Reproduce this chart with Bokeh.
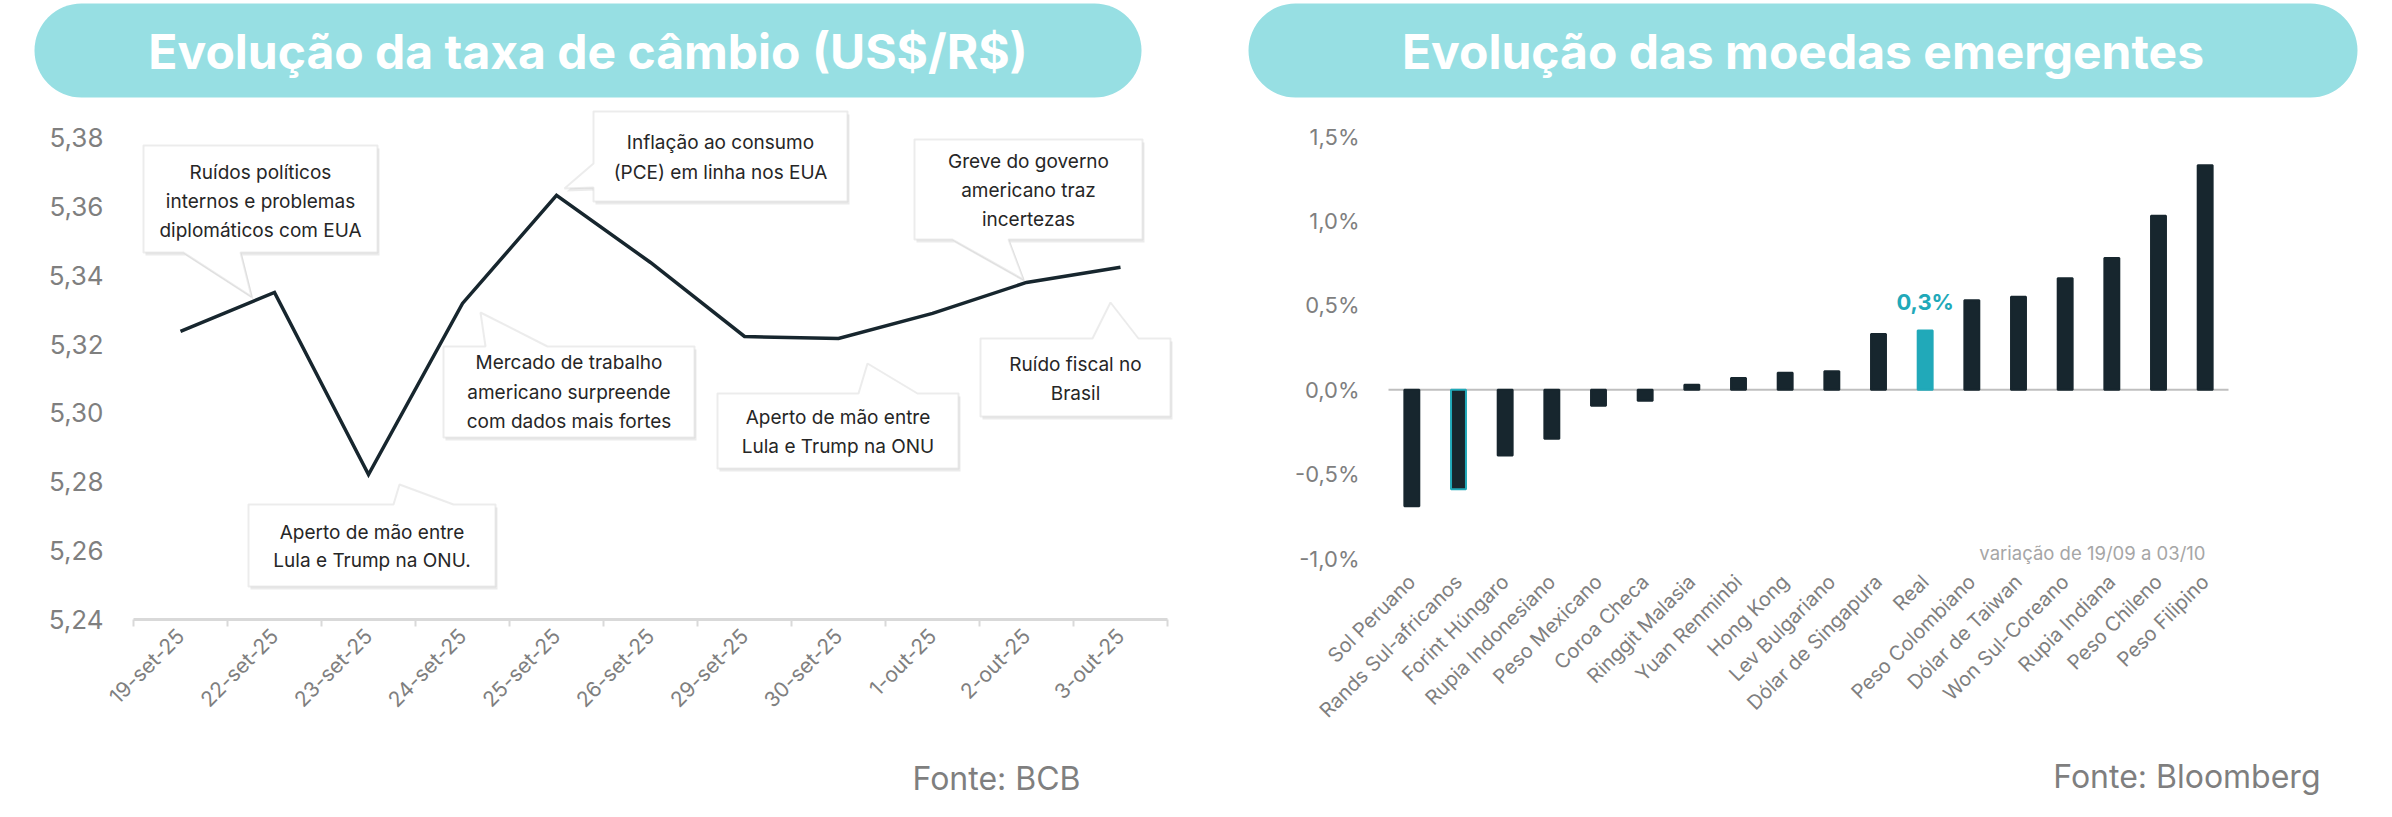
from math import pi
from bokeh.plotting import figure
from bokeh.layouts import row
from bokeh.models import (Range1d, FixedTicker, CustomJSTickFormatter, Label,
                          BoxAnnotation, PolyAnnotation, ColumnDataSource)
from bokeh.core.properties import value
from bokeh.embed import file_html
from bokeh.resources import INLINE

# ---------------- data ----------------
dates = ["19-set-25", "22-set-25", "23-set-25", "24-set-25", "25-set-25", "26-set-25",
         "29-set-25", "30-set-25", "1-out-25", "2-out-25", "3-out-25"]
usd_brl = [5.3237, 5.3350, 5.2821, 5.3318, 5.3632, 5.3437, 5.3222, 5.3216, 5.3289, 5.3379, 5.3423]
fx_ticks = [5.24, 5.26, 5.28, 5.30, 5.32, 5.34, 5.36, 5.38]

currencies = ["Sol Peruano", "Rands Sul-africanos", "Forint Húngaro", "Rupia Indonesiano",
              "Peso Mexicano", "Coroa Checa", "Ringgit Malasia", "Yuan Renminbi", "Hong Kong",
              "Lev Bulgariano", "Dólar de Singapura", "Real", "Peso Colombiano", "Dólar de Taiwan",
              "Won Sul-Coreano", "Rupia Indiana", "Peso Chileno", "Peso Filipino"]
change_pct = [-0.69, -0.59, -0.39, -0.29, -0.095, -0.065, 0.03, 0.07, 0.10, 0.11, 0.33, 0.35,
              0.53, 0.55, 0.66, 0.78, 1.03, 1.33]
pct_ticks = [-1.0, -0.5, 0.0, 0.5, 1.0, 1.5]
real_label = "0,3%"

title_left = "Evolução da taxa de câmbio (US$/R$)"
title_right = "Evolução das moedas emergentes"
source_left = "Fonte: BCB"
source_right = "Fonte: Bloomberg"
note_right = "variação de 19/09 a 03/10"

# ---------------- style / layout ----------------
FONT = "Inter"
TEAL_PILL = "#97dfe3"
TEAL = "#21a9b9"
DARK = "#17262e"
GRAY = "#7f7f7f"
TXT = "#262626"
BORDER = "#bfbfbf"
H = 812
W1 = 1200
W2 = 1184
OFF1 = 0      # page x of figure 1
OFF2 = W1     # page x of figure 2


def axis_range(v_a, px_a, v_b, px_b, px_lo, px_hi):
    """Range whose values v_a/v_b land on pixels px_a/px_b of a frame spanning px_lo..px_hi."""
    k = (px_b - px_a) / (v_b - v_a)
    return Range1d(v_a + (px_lo - px_a) / k, v_a + (px_hi - px_a) / k)


def make_fig(width, x_range, y_range):
    p = figure(width=width, height=H, x_range=x_range, y_range=y_range,
               output_backend="svg", toolbar_location=None,
               min_border_left=0, min_border_right=0, min_border_top=0, min_border_bottom=0)
    p.outline_line_color = None
    p.xgrid.visible = False
    p.ygrid.visible = False
    p.background_fill_color = "white"
    p.border_fill_color = "white"
    return p


def pill(p, off, left, right, top, bottom, text):
    p.add_layout(BoxAnnotation(left=left - off, right=right - off, top=top, bottom=bottom,
                               left_units="canvas", right_units="canvas",
                               top_units="canvas", bottom_units="canvas",
                               fill_color=TEAL_PILL, fill_alpha=1.0, line_color=None,
                               border_radius=int((bottom - top) // 2), level="underlay"))
    p.add_layout(Label(x=(left + right) / 2 - off, y=(top + bottom) / 2 + 1, x_units="canvas",
                       y_units="canvas", text=text, text_align="center", text_baseline="middle",
                       text_font=FONT, text_font_style="bold", text_font_size="48px",
                       text_color="white"))


def callout(p, off, box, edge, base, tip, lines, line_ys):
    l, t, r, b = box
    if edge == "bottom":
        pts = [(l, t), (r, t), (r, b), (base[1], b), tip, (base[0], b), (l, b)]
    elif edge == "top":
        pts = [(l, t), (base[0], t), tip, (base[1], t), (r, t), (r, b), (l, b)]
    else:  # left
        pts = [(l, t), (r, t), (r, b), (l, b), (l, base[1]), tip, (l, base[0])]
    xs = [x - off for x, _ in pts]
    ys = [y for _, y in pts]
    p.add_layout(PolyAnnotation(xs=[x + 2 for x in xs], ys=[y + 3 for y in ys],
                                xs_units="canvas", ys_units="canvas",
                                fill_color="#000000", fill_alpha=0.08, line_color=None))
    p.add_layout(PolyAnnotation(xs=xs, ys=ys, xs_units="canvas", ys_units="canvas",
                                fill_color="white", fill_alpha=1.0, line_color=BORDER,
                                line_width=2))
    cx = (l + r) / 2 - off
    for txt, yy in zip(lines, line_ys):
        p.add_layout(Label(x=cx, y=yy, x_units="canvas", y_units="canvas", text=txt,
                           text_align="center", text_baseline="middle", text_font=FONT,
                           text_font_size="19px", text_color=TXT))


def style_ylabels(ax, size, standoff):
    ax.axis_line_color = None
    ax.major_tick_line_color = None
    ax.minor_tick_line_color = None
    ax.major_tick_in = 0
    ax.major_tick_out = 0
    ax.major_label_standoff = standoff
    ax.major_label_text_font = FONT
    ax.major_label_text_font_size = size
    ax.major_label_text_color = GRAY


# ---------------- left chart ----------------
n = len(dates)
p1 = make_fig(W1,
              axis_range(0, 133 - OFF1, n, 1167 - OFF1, 0, W1),
              axis_range(fx_ticks[0], 619, fx_ticks[-1], 137, H, 0))
centers = [i + 0.5 for i in range(n)]
p1.line(centers, usd_brl, line_color=DARK, line_width=3.5, line_join="miter")

xa = p1.xaxis[0]
xa.fixed_location = fx_ticks[0]
xa.bounds = (0, n)
xa.ticker = FixedTicker(ticks=centers, minor_ticks=list(range(n + 1)))
xa.formatter = CustomJSTickFormatter(args=dict(labels=dates),
                                     code="const i = Math.floor(tick); return (i >= 0 && i < labels.length) ? labels[i] : '';")
xa.major_label_orientation = pi / 4
xa.major_tick_line_color = None
xa.major_tick_in = 0
xa.major_tick_out = 0
xa.minor_tick_line_color = "#d9d9d9"
xa.minor_tick_line_width = 2
xa.minor_tick_in = 0
xa.minor_tick_out = 7
xa.axis_line_color = "#d9d9d9"
xa.axis_line_width = 3
xa.major_label_standoff = 6
xa.major_label_text_font = FONT
xa.major_label_text_font_size = "21px"
xa.major_label_text_color = GRAY

ya = p1.yaxis[0]
ya.fixed_location = 0
ya.ticker = FixedTicker(ticks=fx_ticks)
ya.formatter = CustomJSTickFormatter(code="return tick.toFixed(2).replace('.', ',');")
style_ylabels(ya, "26px", 30)

pill(p1, OFF1, 34, 1141, 3, 97, title_left)

callout(p1, OFF1, (143, 145, 377, 252), "bottom", (183, 240), (251, 296),
        ["Ruídos políticos", "internos e problemas", "diplomáticos com EUA"], [172, 201, 230])
callout(p1, OFF1, (593, 111, 847, 201), "left", (163, 187), (564, 188),
        ["Inflação ao consumo", "(PCE) em linha nos EUA"], [142, 172])
callout(p1, OFF1, (914, 139, 1142, 239), "bottom", (952, 1008), (1023, 279),
        ["Greve do governo", "americano traz", "incertezas"], [161, 190, 219])
callout(p1, OFF1, (980, 338, 1170, 416), "top", (1092, 1138), (1110, 302),
        ["Ruído fiscal no", "Brasil"], [364, 393])
callout(p1, OFF1, (717, 393, 958, 468), "top", (858, 917), (867, 363),
        ["Aperto de mão entre", "Lula e Trump na ONU"], [417, 446])
callout(p1, OFF1, (443, 346, 694, 437), "top", (485, 547), (480, 312),
        ["Mercado de trabalho", "americano surpreende", "com dados mais fortes"], [362, 392, 421])
callout(p1, OFF1, (248, 504, 495, 586), "top", (393, 453), (399, 484),
        ["Aperto de mão entre", "Lula e Trump na ONU."], [532, 560])

p1.add_layout(Label(x=1080 - OFF1, y=778, x_units="canvas", y_units="canvas", text=source_left,
                    text_align="right", text_baseline="middle", text_font=FONT,
                    text_font_size="32px", text_color=GRAY))

# ---------------- right chart ----------------
m = len(currencies)
p2 = make_fig(W2,
              axis_range(0, 1388 - OFF2, m, 2228 - OFF2, 0, W2),
              axis_range(pct_ticks[0], 558, pct_ticks[-1], 136, H, 0))
bar_x = [i + 0.5 for i in range(m)]
fills = [TEAL if c == "Real" else DARK for c in currencies]
outlines = [TEAL if c == "Rands Sul-africanos" else f for c, f in zip(currencies, fills)]
src = ColumnDataSource(dict(x=bar_x, val=change_pct, fill=fills, line=outlines))
p2.segment(x0=[0], y0=[0], x1=[m], y1=[0], line_color=BORDER, line_width=2)
p2.vbar(x="x", top="val", bottom=0, width=0.32, fill_color="fill", line_color="line",
        line_width=2, source=src)

ri = currencies.index("Real")
p2.text(x=[bar_x[ri]], y=[change_pct[ri]], text=[real_label], text_align="center",
        text_baseline="bottom", y_offset=-16, text_font=value(FONT), text_font_style="bold",
        text_font_size="22px", text_color=TEAL)

xb = p2.xaxis[0]
xb.fixed_location = -1.07
xb.bounds = (0, m)
xb.ticker = FixedTicker(ticks=bar_x)
xb.formatter = CustomJSTickFormatter(args=dict(labels=currencies),
                                     code="const i = Math.floor(tick); return (i >= 0 && i < labels.length) ? labels[i] : '';")
xb.axis_line_color = None
xb.major_tick_line_color = None
xb.minor_tick_line_color = None
xb.major_tick_in = 0
xb.major_tick_out = 0
xb.major_label_orientation = pi / 4
xb.major_label_standoff = 8
xb.major_label_text_font = FONT
xb.major_label_text_font_size = "20px"
xb.major_label_text_color = GRAY

yb = p2.yaxis[0]
yb.fixed_location = 0
yb.ticker = FixedTicker(ticks=pct_ticks)
yb.formatter = CustomJSTickFormatter(code="return tick.toFixed(1).replace('.', ',') + '%';")
style_ylabels(yb, "22px", 29)

pill(p2, OFF2, 1248, 2357, 3, 97, title_right)

p2.add_layout(Label(x=2205 - OFF2, y=552, x_units="canvas", y_units="canvas", text=note_right,
                    text_align="right", text_baseline="middle", text_font=FONT,
                    text_font_size="18.5px", text_color="#a6a6a6"))
p2.add_layout(Label(x=2320 - OFF2, y=776, x_units="canvas", y_units="canvas", text=source_right,
                    text_align="right", text_baseline="middle", text_font=FONT,
                    text_font_size="32px", text_color=GRAY))

layout = row(p1, p2)
open("out.html", "w").write(file_html(layout, INLINE))
